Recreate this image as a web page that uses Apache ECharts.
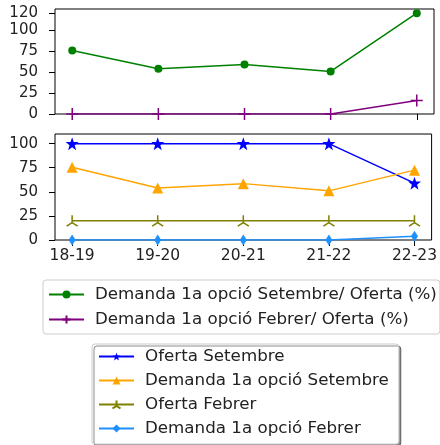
<!DOCTYPE html>
<html>
<head>
<meta charset="utf-8">
<script src="https://cdn.jsdelivr.net/npm/echarts@6/dist/echarts.min.js"></script>
<style>html,body{margin:0;padding:0;background:#fff;}#c{width:440px;height:445px;}</style>
</head>
<body>
<div id="c"></div>
<script>
const categories = ['18-19', '19-20', '20-21', '21-22', '22-23'];
const ratioSetembre = [75.5, 53.8, 58.9, 50.6, 120];
const ratioFebrer = [0, 0, 0, 0, 16];
const ofertaSetembre = [100, 100, 100, 100, 59];
const demandaSetembre = [75.5, 54, 58.5, 51, 72.5];
const ofertaFebrer = [20, 20, 20, 20, 20];
const demandaFebrer = [0, 0, 0, 0, 4];
const topTicks = [0, 25, 50, 75, 100, 120];
const bottomTicks = [0, 25, 50, 75, 100];

const FONT = 'DejaVu Sans';
const TXT = '#222';
const XFS = 15.5;
const YFS = 15;
const LGFS = 16.7;
const pts = arr => arr.map((v, i) => [i, v]);
const xIdx = categories.map((c, i) => i);

const STAR = 'path://M0,-10 L2.35,-3.24 L9.51,-3.09 L3.8,1.23 L5.88,8.09 L0,4 L-5.88,8.09 L-3.8,1.23 L-9.51,-3.09 L-2.35,-3.24 Z';
const PLUS = 'path://M0,-5 L0,5 M-5,0 L5,0';
const TRI = 'path://M0,0 L0,-5 M0,0 L-4.33,2.5 M0,0 L4.33,2.5';

function xAxis(gridIndex, showLabels) {
  return {
    type: 'value', gridIndex, min: -0.2, max: 4.2,
    axisLine: { show: false, onZero: false },
    splitLine: { show: false },
    axisTick: { show: true, inside: false, customValues: xIdx, length: 6, lineStyle: { color: '#000', width: 1 } },
    axisLabel: {
      show: showLabels, customValues: xIdx, margin: 8,
      formatter: v => categories[Math.round(v)] || '',
      fontFamily: FONT, fontSize: XFS, color: TXT
    }
  };
}
function yAxis(gridIndex, max, ticks) {
  return {
    type: 'value', gridIndex, min: 0, max,
    axisLine: { show: false, onZero: false },
    splitLine: { show: false },
    axisTick: { show: true, inside: false, customValues: ticks, length: 6, lineStyle: { color: '#000', width: 1 } },
    axisLabel: { customValues: ticks, margin: 17, fontFamily: FONT, fontSize: YFS, color: TXT }
  };
}
function line(name, data, color, symbol, size, xi, stroke) {
  return {
    name, type: 'line', xAxisIndex: xi, yAxisIndex: xi, data: pts(data),
    symbol, symbolSize: size, showSymbol: true,
    lineStyle: { color, width: 1.5 },
    itemStyle: stroke ? { color: color, borderColor: color, borderWidth: 1.5 } : { color: color, borderWidth: 0 },
    emphasis: { disabled: true }, animation: false, z: 3
  };
}

const chart = echarts.init(document.getElementById('c'), null, { renderer: 'canvas' });
chart.setOption({
  animation: false,
  backgroundColor: '#fff',
  grid: [
    { left: 55, top: 9, width: 379, height: 105, show: true, borderColor: '#000', borderWidth: 1, backgroundColor: 'transparent' },
    { left: 55, top: 134, width: 379, height: 106, show: true, borderColor: '#000', borderWidth: 1, backgroundColor: 'transparent' }
  ],
  xAxis: [xAxis(0, false), xAxis(1, true)],
  yAxis: [yAxis(0, 125, topTicks), yAxis(1, 110, bottomTicks)],
  legend: [
    {
      data: ['Demanda 1a opció Setembre/ Oferta (%)', 'Demanda 1a opció Febrer/ Oferta (%)'],
      orient: 'vertical', left: 43, top: 280, height: 150,
      padding: [6, 3, 6, 5], itemGap: 8, itemWidth: 35, itemHeight: 10,
      backgroundColor: 'rgba(255,255,255,0.8)', borderColor: '#cccccc', borderWidth: 1, borderRadius: 3,
      textStyle: { fontFamily: FONT, fontSize: LGFS, lineHeight: 15, color: TXT, padding: [0, 0, 0, 6] },
      selectedMode: false
    },
    {
      data: ['Oferta Setembre', 'Demanda 1a opció Setembre', 'Oferta Febrer', 'Demanda 1a opció Febrer'],
      orient: 'vertical', left: 92, top: 344, height: 200,
      padding: [4, 10, 7, 6], itemGap: 7, itemWidth: 35, itemHeight: 10,
      backgroundColor: '#fff', borderColor: '#cccccc', borderWidth: 1, borderRadius: 3,
      shadowColor: 'rgba(0,0,0,0.45)', shadowBlur: 0, shadowOffsetX: 2, shadowOffsetY: 2,
      textStyle: { fontFamily: FONT, fontSize: LGFS, lineHeight: 15, color: TXT, padding: [0, 0, 0, 6] },
      selectedMode: false
    }
  ],
  series: [
    line('Demanda 1a opció Setembre/ Oferta (%)', ratioSetembre, '#008000', 'circle', 8, 0, false),
    line('Demanda 1a opció Febrer/ Oferta (%)', ratioFebrer, '#800080', PLUS, 12, 0, true),
    line('Oferta Setembre', ofertaSetembre, '#0000ff', STAR, 13, 1, false),
    line('Demanda 1a opció Setembre', demandaSetembre, '#ffa500', 'triangle', 11, 1, false),
    line('Oferta Febrer', ofertaFebrer, '#808000', TRI, 11, 1, true),
    line('Demanda 1a opció Febrer', demandaFebrer, '#1e90ff', 'diamond', [7, 11], 1, false)
  ]
});
</script>
</body>
</html>
